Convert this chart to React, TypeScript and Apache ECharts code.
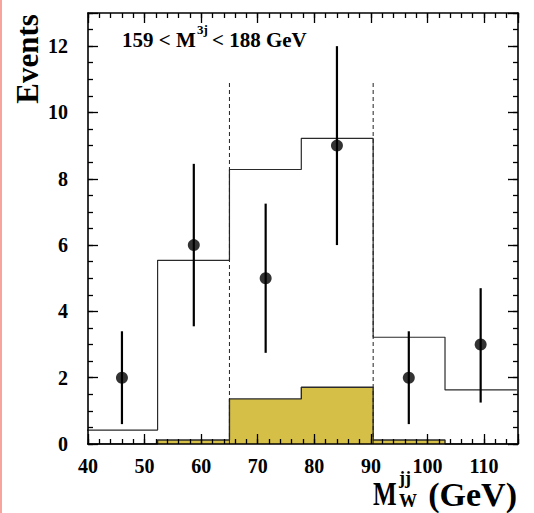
import React, { useEffect, useRef } from "react";
import * as echarts from "echarts";

// Histogram bin edges (GeV)
const binEdges = [39.6, 52.3, 65.0, 77.7, 90.4, 103.1, 115.8];
// Expected total (open histogram)
const totalExpected = [0.42, 5.54, 8.28, 9.22, 3.22, 1.63];
// Background (yellow filled histogram)
const background = [0, 0.12, 1.36, 1.71, 0.12, 0];
// Data points
const dataX = [46.0, 58.7, 71.4, 84.0, 96.7, 109.4];
const dataY = [2, 6, 5, 9, 2, 3];
const errLow = [0.6, 3.55, 2.75, 6.0, 0.6, 1.25];
const errHigh = [3.4, 8.45, 7.25, 12.0, 3.4, 4.7];
// Cut window (dashed lines)
const cutX = [65.0, 90.4];
const cutTop = 10.9;
// Axis ranges / ticks
const xMin = 40, xMax = 116, xMajor = 10, xMinor = 2;
const yMin = 0, yMax = 13, yMajor = 2, yMinor = 0.5;

const FONT = "'Liberation Serif', 'Times New Roman', serif";

function stepData(values: number[]) {
  const d: number[][] = values.map((v, i) => [binEdges[i], v]);
  d.push([binEdges[binEdges.length - 1], values[values.length - 1]]);
  return d;
}

export default function App() {
  const ref = useRef<HTMLDivElement>(null);
  useEffect(() => {
    if (!ref.current) return;
    const chart = echarts.init(ref.current, null, { renderer: "svg" });
    const lineCol = "#000";
    const mkX = (pos: "bottom" | "top", interval: number, len: number, main: boolean, labels: boolean) => ({
      type: "value",
      gridIndex: 0,
      position: pos,
      min: xMin,
      max: xMax,
      interval,
      z: 10,
      axisLine: { show: main, onZero: false, lineStyle: { color: lineCol, width: 1.6 } },
      axisTick: { show: true, inside: true, length: len, lineStyle: { color: lineCol, width: 1.3 } },
      axisLabel: labels
        ? {
            show: true,
            margin: 12,
            fontFamily: FONT,
            fontWeight: "bold",
            fontSize: 20,
            color: "#000",
            formatter: (v: number) => (v % xMajor === 0 && v < xMax ? String(v) : ""),
          }
        : { show: false },
      splitLine: { show: false },
    });
    const mkY = (pos: "left" | "right", interval: number, len: number, main: boolean, labels: boolean) => ({
      type: "value",
      gridIndex: 0,
      position: pos,
      min: yMin,
      max: yMax,
      interval,
      z: 10,
      axisLine: { show: main, onZero: false, lineStyle: { color: lineCol, width: 1.6 } },
      axisTick: { show: true, inside: true, length: len, lineStyle: { color: lineCol, width: 1.3 } },
      axisLabel: labels
        ? {
            show: true,
            margin: 20,
            fontFamily: FONT,
            fontWeight: "bold",
            fontSize: 20,
            color: "#000",
            formatter: (v: number) => (v % yMajor === 0 && v < yMax ? String(v) : ""),
          }
        : { show: false },
      splitLine: { show: false },
    });

    chart.setOption({
      animation: false,
      backgroundColor: "#fff",
      grid: { left: 88, right: 16, top: 13, bottom: 69 },
      xAxis: [
        mkX("bottom", xMajor, 10, true, true),
        mkX("bottom", xMinor, 5, false, false),
        mkX("top", xMajor, 10, true, false),
        mkX("top", xMinor, 5, false, false),
      ],
      yAxis: [
        mkY("left", yMajor, 10, true, true),
        mkY("left", yMinor, 5, false, false),
        mkY("right", yMajor, 10, true, false),
        mkY("right", yMinor, 5, false, false),
      ],
      series: [
        {
          type: "line",
          name: "background",
          data: stepData(background),
          step: "end",
          showSymbol: false,
          symbol: "none",
          lineStyle: { color: "#2a2a2a", width: 1.4 },
          areaStyle: { color: "#d5bf47", opacity: 1 },
          z: 2,
        },
        {
          type: "line",
          name: "total",
          data: stepData(totalExpected),
          step: "end",
          showSymbol: false,
          symbol: "none",
          lineStyle: { color: "#2a2a2a", width: 1.2 },
          z: 3,
        },
        {
          type: "custom",
          name: "cuts",
          data: cutX.map((x) => [x, cutTop]),
          z: 4,
          renderItem: (params: any, api: any) => {
            const p0 = api.coord([api.value(0), 0]);
            const p1 = api.coord([api.value(0), api.value(1)]);
            return {
              type: "line",
              shape: { x1: p0[0], y1: p0[1], x2: p1[0], y2: p1[1] },
              style: { stroke: "#222", lineWidth: 1, lineDash: [4, 3] },
            };
          },
        },
        {
          type: "custom",
          name: "errors",
          data: dataX.map((x, i) => [x, errLow[i], errHigh[i]]),
          z: 5,
          renderItem: (params: any, api: any) => {
            const p0 = api.coord([api.value(0), api.value(1)]);
            const p1 = api.coord([api.value(0), api.value(2)]);
            return {
              type: "line",
              shape: { x1: p0[0], y1: p0[1], x2: p1[0], y2: p1[1] },
              style: { stroke: "#000", lineWidth: 2.2 },
            };
          },
        },
        {
          type: "scatter",
          name: "data",
          data: dataX.map((x, i) => [x, dataY[i]]),
          symbol: "circle",
          symbolSize: 12,
          itemStyle: { color: "#000" },
          z: 6,
        },
      ],
      graphic: [
        { type: "rect", shape: { x: 0, y: 0, width: 2, height: 513 }, style: { fill: "#f6a49c" } },
        {
          type: "text",
          x: 27,
          y: 59,
          rotation: Math.PI / 2,
          style: {
            text: "Events",
            font: `bold 31px ${FONT}`,
            fill: "#000",
            align: "center",
            verticalAlign: "middle",
          },
        },
        {
          type: "text",
          x: 122,
          y: 40,
          style: { text: "159 < M", font: `bold 21px ${FONT}`, fill: "#000", align: "left", verticalAlign: "middle" },
        },
        {
          type: "text",
          x: 197,
          y: 29,
          style: { text: "3j", font: `bold 13px ${FONT}`, fill: "#000", align: "left", verticalAlign: "middle" },
        },
        {
          type: "text",
          x: 212,
          y: 40,
          style: { text: "< 188 GeV", font: `bold 21px ${FONT}`, fill: "#000", align: "left", verticalAlign: "middle" },
        },
        {
          type: "text",
          x: 373,
          y: 494,
          scaleX: 0.76,
          style: { text: "M", font: `bold 33px ${FONT}`, fill: "#000", align: "left", verticalAlign: "middle" },
        },
        {
          type: "text",
          x: 399,
          y: 478,
          style: { text: "jj", font: `bold 18px ${FONT}`, fill: "#000", align: "left", verticalAlign: "middle" },
        },
        {
          type: "text",
          x: 399,
          y: 501,
          style: { text: "W", font: `bold 18px ${FONT}`, fill: "#000", align: "left", verticalAlign: "middle" },
        },
        {
          type: "text",
          x: 517,
          y: 494,
          style: { text: "(GeV)", font: `bold 34px ${FONT}`, fill: "#000", align: "right", verticalAlign: "middle" },
        },
      ],
    });
    return () => chart.dispose();
  }, []);
  return (
    <div
      ref={ref}
      style={{ position: "fixed", left: 0, top: 0, width: 534, height: 513 }}
    />
  );
}
